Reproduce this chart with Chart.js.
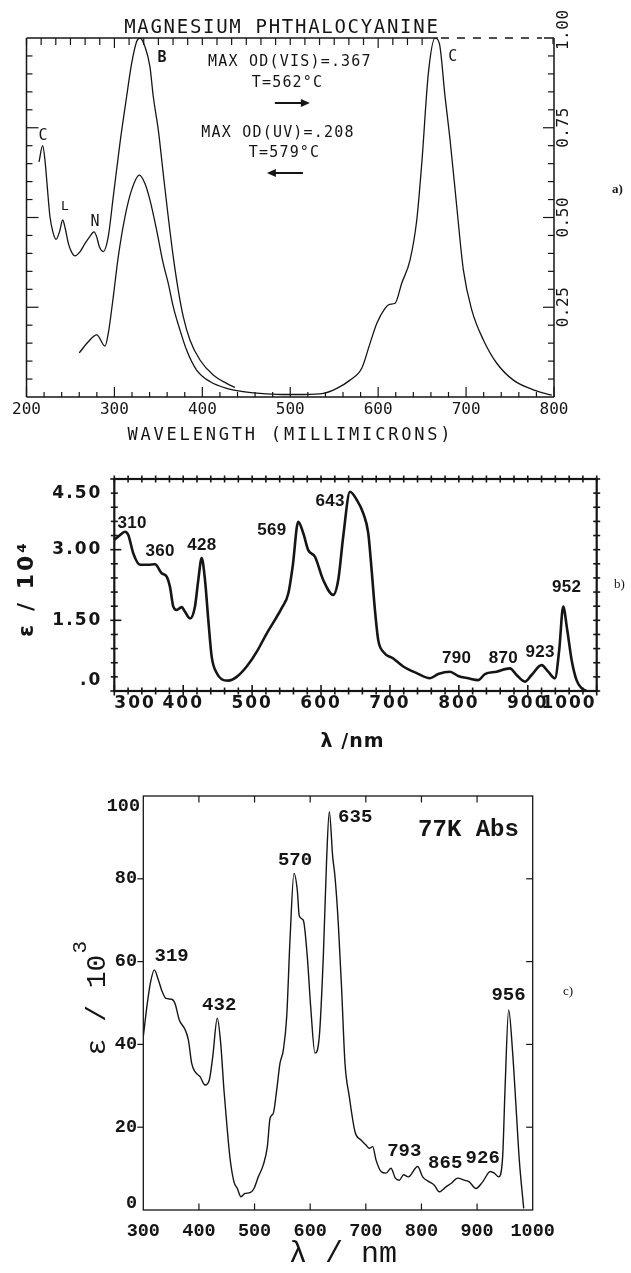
<!DOCTYPE html>
<html><head><meta charset="utf-8">
<script src="https://cdn.jsdelivr.net/npm/chart.js@4.4.1/dist/chart.umd.min.js"></script>
<style>
html,body{margin:0;padding:0;background:#fff;}
#page{position:relative;width:631px;height:1273px;overflow:hidden;background:#fff;}
canvas{position:absolute;left:0;}
</style></head><body>
<div id="page">
<canvas id="cA" width="631" height="450" style="top:0px"></canvas>
<canvas id="cB" width="631" height="320" style="top:450px"></canvas>
<canvas id="cC" width="631" height="503" style="top:770px"></canvas>
</div>
<script>
// ---------- data (panel a: normalised absorbance, Mg phthalocyanine vapour) ----------
const uvWavelength = [214.2, 218.4, 221, 223, 226.7, 230, 233.6, 237.5, 241.2, 244, 247.6, 251, 255.2, 261, 266.6, 272, 276.8, 280, 282.8, 287.3, 293, 298.7, 306.3, 313.9, 319.6, 325.3, 329.1, 334.7, 340.4, 344.2, 349.9, 355.5, 361.2, 366.9, 372.6, 378.3, 385.9, 397.3, 412.4, 427.6, 437];
const uvAbsorbance = [0.655, 0.70, 0.66, 0.604, 0.502, 0.46, 0.439, 0.46, 0.493, 0.47, 0.428, 0.405, 0.393, 0.405, 0.428, 0.447, 0.46, 0.445, 0.419, 0.405, 0.447, 0.558, 0.707, 0.837, 0.929, 0.990, 1.0, 0.976, 0.92, 0.837, 0.744, 0.623, 0.502, 0.391, 0.298, 0.224, 0.159, 0.103, 0.061, 0.038, 0.027];
const visWavelength = [260, 270.3, 279.9, 289.3, 293, 298.7, 304.4, 312, 319.6, 328.3, 334.7, 340.4, 348, 355.5, 361.2, 366.9, 374.5, 382.1, 393.5, 408.6, 427.6, 446.5, 465.5, 490, 515, 537.7, 552.9, 568, 581.3, 590.8, 598.4, 607.8, 613, 619.2, 626.8, 636.3, 643.9, 649.6, 657.1, 664.7, 669.6, 676.1, 681.8, 689.4, 696.9, 706.5, 719.7, 734.9, 753.8, 776.6, 797.5];
const visAbsorbance = [0.123, 0.154, 0.173, 0.142, 0.177, 0.279, 0.391, 0.502, 0.577, 0.618, 0.595, 0.549, 0.465, 0.372, 0.317, 0.252, 0.187, 0.131, 0.075, 0.043, 0.024, 0.015, 0.01, 0.007, 0.007, 0.01, 0.024, 0.047, 0.08, 0.15, 0.205, 0.247, 0.258, 0.261, 0.317, 0.382, 0.493, 0.651, 0.902, 1.0, 0.985, 0.836, 0.716, 0.53, 0.354, 0.242, 0.159, 0.094, 0.047, 0.02, 0.005];

// ---------- data (panel b: epsilon / 10^4) ----------
const bWavelength = [300, 305.8, 310, 315.5, 320.3, 327.6, 337.3, 349.3, 359, 368.8, 376, 380.8, 385.6, 390.5, 397.8, 402.6, 409.8, 417, 421.9, 426.8, 431.6, 436.4, 441.3, 448.6, 455.8, 465.4, 477.6, 492.1, 506.6, 521.1, 533.1, 542.9, 552.5, 558.8, 566.9, 574.2, 581.4, 591.2, 603, 617.7, 625, 632.2, 642, 651.7, 661.3, 668.5, 673.4, 678.2, 683, 690.3, 704.8, 719.3, 738.7, 758, 770, 787, 799, 813.6, 828, 837.8, 854.7, 874, 883.8, 895.8, 905.5, 920, 929.6, 939.4, 945.6, 951.4, 957.2, 963.6, 970.8, 978, 985.3];
const bEpsilon = [3.21, 3.28, 3.33, 3.38, 3.31, 2.92, 2.68, 2.68, 2.69, 2.50, 2.43, 2.21, 1.79, 1.72, 1.78, 1.68, 1.54, 1.79, 2.36, 2.82, 2.36, 1.51, 0.73, 0.38, 0.25, 0.22, 0.30, 0.52, 0.83, 1.22, 1.51, 1.76, 2.07, 2.64, 3.59, 3.35, 2.99, 2.85, 2.36, 2.04, 2.36, 3.28, 4.23, 4.06, 3.77, 3.35, 2.57, 1.72, 1.08, 0.83, 0.69, 0.52, 0.38, 0.27, 0.36, 0.41, 0.32, 0.27, 0.23, 0.36, 0.41, 0.48, 0.34, 0.20, 0.34, 0.55, 0.41, 0.27, 0.87, 1.79, 1.30, 0.66, 0.23, 0.06, 0];

// ---------- data (panel c: epsilon / 10^3, 77K) ----------
const cWavelength = [300, 307.2, 313.3, 319.8, 327, 333, 340.8, 351, 357, 364.7, 375, 381, 387, 393, 402, 411, 418.7, 424.8, 433, 439.1, 445, 450, 455.9, 463, 469, 475.6, 482.8, 491.8, 499, 506.7, 515.7, 523, 527.8, 533.8, 539.8, 545.7, 551.7, 557.8, 563.7, 570.9, 576.8, 580.4, 587.6, 594.8, 600.9, 608.6, 616.4, 623.6, 629.7, 634.4, 640.5, 644.6, 650.5, 656.6, 662.6, 670.3, 680.6, 691.4, 700.3, 706.3, 712.4, 718.3, 727.3, 736.3, 745.3, 753, 760.2, 768, 776.4, 793.2, 802.2, 814.1, 823.1, 832, 844.1, 853.1, 865.1, 877, 886, 898, 910.1, 923.8, 931, 938.9, 946, 950.2, 956.8, 964, 970, 975.9, 983.8];
const cEpsilon = [41.9, 49.9, 55.2, 58.0, 55.6, 53.1, 51.1, 50.9, 49.9, 45.9, 43.6, 41.1, 35.4, 33.4, 32.2, 30.2, 31.4, 37.0, 46.3, 40.3, 29.0, 20.9, 12.5, 6.8, 5.2, 3.2, 4.0, 4.2, 5.2, 8.0, 10.9, 15.3, 22.1, 23.4, 29.0, 35.4, 38.6, 46.7, 65.2, 81.3, 77.3, 71.0, 70.0, 61.2, 49.1, 37.9, 41.9, 61.2, 85.3, 96.2, 85.3, 80.5, 69.3, 53.1, 35.4, 27.4, 18.9, 16.9, 15.7, 14.9, 15.3, 12.1, 9.3, 8.9, 10.1, 7.7, 7.2, 8.5, 8.0, 10.5, 8.0, 6.8, 6.0, 4.4, 5.6, 6.4, 7.7, 7.2, 6.8, 5.2, 6.8, 9.3, 8.9, 8.0, 12.9, 29.0, 48.3, 37.9, 25.0, 12.1, 0.4];

// ---------- tick labels ----------
const aTickValues = [200, 300, 400, 500, 600, 700, 800];
const aRightTickValues = [0.25, 0.50, 0.75, 1.00];
const aRightTickLabels = ['0.25', '0.50', '0.75', '1.00'];
const bTickValuesX = [300, 400, 500, 600, 700, 800, 900, 1000];
const bTickValuesY = [0, 1.5, 3.0, 4.5];
const bTickLabelsY = ['.0', '1.50', '3.00', '4.50'];
const cTickValuesX = [300, 400, 500, 600, 700, 800, 900, 1000];
const cTickValuesY = [0, 20, 40, 60, 80, 100];

// ---------- annotations (data coordinates) ----------
const aBandLabels = [
  {t: 'C', x: 218.8, y: 0.727}, {t: 'L', x: 243.8, y: 0.529}, {t: 'N', x: 277.9, y: 0.487},
  {t: 'B', x: 354.1, y: 0.944}, {t: 'C', x: 684.9, y: 0.947}
];
const aNotes = [
  {t: 'MAX OD(VIS)=.367', x: 499, y: 0.932}, {t: 'T=562°C', x: 496.2, y: 0.875},
  {t: 'MAX OD(UV)=.208', x: 485.4, y: 0.735}, {t: 'T=579°C', x: 492.8, y: 0.680}
];
const aArrows = [{from: 482.5, to: 522.3, y: 0.819}, {from: 514.4, to: 473.4, y: 0.624}];
const bPeakLabels = [
  {t: '310', x: 325.7, y: 3.57}, {t: '360', x: 366.3, y: 2.96}, {t: '428', x: 426.8, y: 3.10},
  {t: '569', x: 528.3, y: 3.42}, {t: '643', x: 612.9, y: 4.02}, {t: '790', x: 796.7, y: 0.69},
  {t: '870', x: 864.3, y: 0.69}, {t: '923', x: 917.6, y: 0.83}, {t: '952', x: 956.3, y: 2.21}
];
const cPeakLabels = [
  {t: '319', x: 351, y: 61.2}, {t: '432', x: 436.4, y: 49.5}, {t: '570', x: 572.7, y: 84.5},
  {t: '635', x: 680.9, y: 94.8}, {t: '793', x: 769.2, y: 14.1}, {t: '865', x: 842.7, y: 11.3},
  {t: '926', x: 910.1, y: 12.5}, {t: '956', x: 956.5, y: 51.9}
];

// ---------- helpers ----------
const INK = '#151515';
const MONO = '"DejaVu Sans Mono", monospace';
const SANS = '"DejaVu Sans", sans-serif';
const LMONO = '"Liberation Mono", monospace';
const SERIF = '"Liberation Serif", serif';
const pairs = (xs, ys) => xs.map((x, i) => ({x, y: ys[i]}));
function seg(ctx, x1, y1, x2, y2) { ctx.beginPath(); ctx.moveTo(x1, y1); ctx.lineTo(x2, y2); ctx.stroke(); }
function txt(ctx, s, x, y, o) {
  ctx.save();
  ctx.font = o.font; ctx.fillStyle = INK;
  ctx.textAlign = o.align || 'center';
  ctx.textBaseline = o.baseline || 'middle';
  const sp = o.spacing || 0;
  ctx.letterSpacing = sp + 'px';
  ctx.translate(x, y);
  if (o.rotate) ctx.rotate(o.rotate);
  let dx = 0;
  if (sp) { if (ctx.textAlign === 'center') dx = sp / 2; else if (ctx.textAlign === 'right') dx = sp; }
  ctx.fillText(s, dx, 0);
  ctx.restore();
}
function lineDataset(label, xs, ys, w) {
  return {label, data: pairs(xs, ys), borderColor: INK, borderWidth: w, pointRadius: 0,
          cubicInterpolationMode: 'monotone', fill: false};
}
function baseOptions(pad, xCfg, yCfg, xH, yW) {
  return {
    responsive: false, animation: false, devicePixelRatio: 1,
    layout: {padding: pad},
    plugins: {legend: {display: false}, tooltip: {enabled: false}},
    scales: {
      x: Object.assign({type: 'linear', position: 'bottom', afterFit: s => { s.height = xH; },
        grid: {display: false, drawTicks: false}, border: {display: false}}, xCfg),
      y: Object.assign({type: 'linear', position: 'left', afterFit: s => { s.width = yW; },
        grid: {display: false, drawTicks: false}, border: {display: false}}, yCfg)
    }
  };
}
const plain = v => String(v);

// ---------- panel a ----------
const frameA = {
  id: 'frameA',
  afterDraw(chart) {
    const {ctx, chartArea: a, scales: {x, y}} = chart;
    ctx.save();
    ctx.strokeStyle = INK; ctx.lineWidth = 1.5;
    seg(ctx, a.left, a.top, a.left, a.bottom);
    seg(ctx, a.left, a.bottom, a.right, a.bottom);
    seg(ctx, a.right, a.top, a.right, a.bottom);
    const split = x.getPixelForValue(668);
    seg(ctx, a.left, a.top, split, a.top);
    ctx.setLineDash([8, 8]);
    seg(ctx, split + 3, a.top, a.right - 12, a.top);
    ctx.setLineDash([]);
    seg(ctx, a.right - 10, a.top, a.right, a.top);
    ctx.lineWidth = 1.2;
    for (let k = 0; k <= 30; k++) {
      const px = x.getPixelForValue(200 + 20 * k);
      seg(ctx, px, a.bottom, px, a.bottom - (k % 5 === 0 ? 10 : 5));
    }
    for (let i = 0; i <= 27; i++) {
      const px = x.getPixelForValue(200 + i * 50 / 3);
      seg(ctx, px, a.top, px, a.top + ((i - 6) % 18 === 0 ? 10 : 7));
    }
    seg(ctx, a.right - 1, a.top, a.right - 1, a.top + 6);
    for (let k = 1; k < 20; k++) {
      const py = y.getPixelForValue(k * 0.05);
      const major = k % 5 === 0;
      seg(ctx, a.left, py, a.left + (major ? 12 : 6), py);
      seg(ctx, a.right, py, a.right - (major ? 11 : 6), py);
    }
    ctx.restore();
    aRightTickValues.forEach((v, i) => {
      const py = y.getPixelForValue(v) - (v === 1 ? 8 : 0);
      txt(ctx, aRightTickLabels[i], a.right + 10, py, {font: '16px ' + MONO, rotate: -Math.PI / 2, spacing: 0.5});
    });
    txt(ctx, 'MAGNESIUM PHTHALOCYANINE', 281, 33, {font: '19px ' + MONO, baseline: 'alphabetic', spacing: 1.7});
    txt(ctx, 'WAVELENGTH (MILLIMICRONS)', 289, 440, {font: '17px ' + MONO, baseline: 'alphabetic', spacing: 2.8});
    aBandLabels.forEach(b => {
      txt(ctx, b.t, x.getPixelForValue(b.x), y.getPixelForValue(b.y),
          {font: (b.t === 'B' ? 'bold 15px ' : (b.t === 'L' ? '13px ' : '15px ')) + MONO});
    });
    aNotes.forEach(n => {
      txt(ctx, n.t, x.getPixelForValue(n.x), y.getPixelForValue(n.y), {font: '15px ' + MONO, spacing: 1.2});
    });
    ctx.save();
    ctx.strokeStyle = INK; ctx.fillStyle = INK; ctx.lineWidth = 2;
    aArrows.forEach(ar => {
      const x1 = x.getPixelForValue(ar.from), x2 = x.getPixelForValue(ar.to), py = y.getPixelForValue(ar.y);
      const dir = Math.sign(x2 - x1);
      seg(ctx, x1, py, x2 - dir * 6, py);
      ctx.beginPath(); ctx.moveTo(x2, py); ctx.lineTo(x2 - dir * 9, py - 4); ctx.lineTo(x2 - dir * 9, py + 4); ctx.closePath(); ctx.fill();
    });
    ctx.restore();
    txt(ctx, 'a)', 612, 190, {font: 'bold 13px ' + SERIF, align: 'left'});
  }
};
new Chart(document.getElementById('cA'), {
  type: 'line',
  data: {datasets: [
    lineDataset('UV (T=579°C)', uvWavelength, uvAbsorbance, 1.3),
    lineDataset('VIS (T=562°C)', visWavelength, visAbsorbance, 1.3)
  ]},
  options: baseOptions({left: 0, right: 77, top: 38, bottom: 0},
    {min: 200, max: 800,
     afterBuildTicks: s => { s.ticks = aTickValues.map(v => ({value: v})); },
     ticks: {font: {family: MONO, size: 16, lineHeight: 1}, color: INK, padding: 5, maxRotation: 0, autoSkip: false, callback: plain}},
    {min: 0, max: 1, ticks: {display: false}}, 53, 26.5),
  plugins: [frameA]
});

// ---------- panel b ----------
const frameB = {
  id: 'frameB',
  beforeDraw(chart) { chart.ctx.letterSpacing = '2px'; },
  afterDraw(chart) {
    const {ctx, chartArea: a, scales: {x, y}} = chart;
    ctx.letterSpacing = '0px';
    ctx.save();
    ctx.strokeStyle = INK; ctx.lineWidth = 2.2;
    ctx.strokeRect(a.left, a.top, a.right - a.left, a.bottom - a.top);
    ctx.lineWidth = 1.6;
    for (let k = 0; k <= 35; k++) {
      const px = x.getPixelForValue(300 + 20 * k);
      const major = k % 5 === 0;
      seg(ctx, px, a.bottom - (major ? 6 : 3.5), px, a.bottom + (major ? 4.5 : 3.5));
      seg(ctx, px, a.top - 3.5, px, a.top + 3.5);
    }
    for (let k = 0; k <= 15; k++) {
      const py = y.getPixelForValue(0.3 * k);
      const major = k % 5 === 0;
      seg(ctx, a.left - (major ? 4 : 3.5), py, a.left + (major ? 7 : 3.5), py);
      seg(ctx, a.right - 3.5, py, a.right + 3.5, py);
    }
    ctx.restore();
    const tf = 'bold 17px ' + SANS;
    txt(ctx, bTickLabelsY[0], a.left - 14, y.getPixelForValue(0) - 10, {font: tf, align: 'right', spacing: 2});
    txt(ctx, bTickLabelsY[3], a.left - 14, y.getPixelForValue(4.5) + 15, {font: tf, align: 'right', spacing: 2});
    bPeakLabels.forEach(p => {
      txt(ctx, p.t, x.getPixelForValue(p.x), y.getPixelForValue(p.y), {font: 'bold 17px "Liberation Sans", sans-serif', spacing: 0.3});
    });
    txt(ctx, 'ε / 10⁴', 27, 140, {font: 'bold 22px ' + SANS, rotate: -Math.PI / 2, spacing: 3});
    txt(ctx, 'λ /nm', 352, 292, {font: 'bold 19px ' + SANS, spacing: 1});
    txt(ctx, 'b)', 614, 135, {font: '13px ' + SERIF, align: 'left'});
  }
};
new Chart(document.getElementById('cB'), {
  type: 'line',
  data: {datasets: [lineDataset('ε / 10^4', bWavelength, bEpsilon, 2.6)]},
  options: baseOptions({left: 0, right: 34.3, top: 29, bottom: 0},
    {min: 300, max: 1000,
     afterBuildTicks: s => { s.ticks = bTickValuesX.map(v => ({value: v})); },
     ticks: {font: {family: SANS, size: 17, weight: 'bold', lineHeight: 1}, color: INK, padding: 4, align: 'inner', maxRotation: 0, autoSkip: false, callback: plain}},
    {min: 0, max: 4.5,
     afterBuildTicks: s => { s.ticks = bTickValuesY.map(v => ({value: v})); },
     ticks: {font: {family: SANS, size: 17, weight: 'bold', lineHeight: 1}, color: INK, padding: 12,
             callback: (v, i) => (i === 1 || i === 2) ? bTickLabelsY[i] : ''}}, 79, 114.3),
  plugins: [frameB]
});

// ---------- panel c ----------
const frameC = {
  id: 'frameC',
  afterDraw(chart) {
    const {ctx, chartArea: a, scales: {x, y}} = chart;
    ctx.save();
    ctx.strokeStyle = INK; ctx.lineWidth = 1.3;
    ctx.strokeRect(a.left, a.top, a.right - a.left, a.bottom - a.top);
    ctx.lineWidth = 1.2;
    cTickValuesX.slice(1, -1).forEach(v => {
      const px = x.getPixelForValue(v);
      seg(ctx, px, a.bottom, px, a.bottom - 6.5);
      seg(ctx, px, a.top, px, a.top + 6.5);
    });
    cTickValuesY.slice(1, -1).forEach(v => {
      const py = y.getPixelForValue(v);
      seg(ctx, a.left, py, a.left - 6, py);
      seg(ctx, a.right, py, a.right - 6.5, py);
    });
    ctx.restore();
    const tf = 'bold 18.5px ' + LMONO;
    txt(ctx, '0', a.left - 6.3, y.getPixelForValue(0) - 7, {font: tf, align: 'right'});
    txt(ctx, '100', a.left - 3.3, y.getPixelForValue(100) + 10.5, {font: tf, align: 'right'});
    cPeakLabels.forEach(p => {
      txt(ctx, p.t, x.getPixelForValue(p.x), y.getPixelForValue(p.y), {font: 'bold 19px ' + LMONO});
    });
    txt(ctx, '77K Abs', x.getPixelForValue(884.6), y.getPixelForValue(91.8), {font: 'bold 24px ' + LMONO});
    ctx.save();
    ctx.font = '28px ' + LMONO; ctx.fillStyle = INK;
    ctx.translate(105, 235); ctx.rotate(-Math.PI / 2);
    ctx.textBaseline = 'alphabetic'; ctx.textAlign = 'center';
    const s1 = 'ε / 10';
    const w1 = ctx.measureText(s1).width;
    ctx.fillText(s1, 0, 0);
    ctx.font = '21px ' + LMONO; ctx.textAlign = 'left';
    ctx.fillText('3', w1 / 2 + 1, -19);
    ctx.restore();
    txt(ctx, 'λ / nm', 343, 492, {font: '30px ' + LMONO, baseline: 'alphabetic'});
    txt(ctx, 'c)', 563, 222, {font: '13px ' + SERIF, align: 'left'});
  }
};
new Chart(document.getElementById('cC'), {
  type: 'line',
  data: {datasets: [lineDataset('ε / 10^3 (77K)', cWavelength, cEpsilon, 1.4)]},
  options: baseOptions({left: 0, right: 98.3, top: 26, bottom: 0},
    {min: 300, max: 1000,
     afterBuildTicks: s => { s.ticks = cTickValuesX.map(v => ({value: v})); },
     ticks: {font: {family: LMONO, size: 18.5, weight: 'bold', lineHeight: 1}, color: INK, padding: 12.4, maxRotation: 0, autoSkip: false, callback: plain}},
    {min: 0, max: 100,
     afterBuildTicks: s => { s.ticks = cTickValuesY.map(v => ({value: v})); },
     ticks: {font: {family: LMONO, size: 18.5, weight: 'bold', lineHeight: 1}, color: INK, padding: 6.3,
             callback: (v, i) => (i > 0 && i < cTickValuesY.length - 1) ? String(v) : ''}}, 63, 143.3),
  plugins: [frameC]
});
</script>
</body></html>
